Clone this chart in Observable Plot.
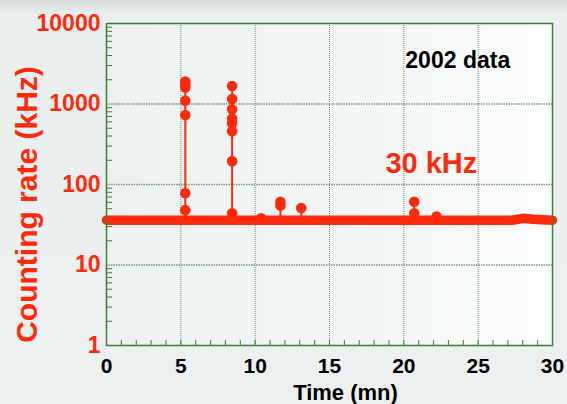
<!DOCTYPE html>
<html><head><meta charset="utf-8">
<script src="https://cdn.jsdelivr.net/npm/d3@7"></script>
<script src="https://cdn.jsdelivr.net/npm/@observablehq/plot@0.6"></script>
<style>
html,body{margin:0;padding:0;}
body{width:567px;height:404px;overflow:hidden;background:linear-gradient(#d6dada 0px,#dfe3e3 7px,#e9eeee 13px,#ecf0f0 100%);}
svg{display:block;}
</style>
</head><body><div id="chart"></div>
<script>
const xTicks = [0, 5, 10, 15, 20, 25, 30];
const yTicks = [1, 10, 100, 1000, 10000];
const minorMults = [2, 3, 4, 5, 6, 7, 8, 9];
const xMinor = [1,2,3,4,6,7,8,9,11,12,13,14,16,17,18,19,21,22,23,24,26,27,28,29];
// baseline trace (~36 kHz)
const baseTime = [0, 5, 10, 15, 20, 25, 27.3, 28, 28.7, 30];
const baseRate = [36, 36, 36, 36, 36, 36, 36, 38, 37, 36];
// spikes: time and measured rates
const spikeTime = [5.3, 8.45, 10.4, 11.7, 13.1, 20.7, 22.2];
const spikeRates = [
  [48, 78, 730, 1100, 1600, 1750, 1900],
  [44, 195, 460, 575, 660, 860, 1150, 1670],
  [38],
  [55, 61],
  [51],
  [44, 61],
  [40]
];
const spikeFloor = 36;

const red = "#ff2a0c";
const green = "#3f7d33";
const font = "'Liberation Sans', Arial, sans-serif";

const base = baseTime.map((t, i) => ({t, v: baseRate[i]}));
const spikeLines = [];
const spikeDots = [];
spikeTime.forEach((t, k) => {
  spikeLines.push({t, v: spikeFloor, k});
  spikeRates[k].forEach(v => { spikeLines.push({t, v, k}); spikeDots.push({t, v}); });
});
const minorY = [];
yTicks.slice(0, -1).forEach(d => minorMults.forEach(m => minorY.push(d * m)));

const plot = Plot.plot({
  width: 567, height: 404,
  marginLeft: 106, marginRight: 15, marginTop: 23, marginBottom: 59,
  style: {background: "transparent", fontFamily: font, overflow: "visible"},
  x: {domain: [0, 30], label: null},
  y: {type: "log", domain: [1, 10000], label: null},
  marks: [
    Plot.frame({fill: "url(#pbg)", stroke: "none"}),
    Plot.ruleX(xTicks.slice(1, -1), {stroke: "#5f9a55", strokeDasharray: "1,1", strokeWidth: 1}),
    Plot.ruleY(yTicks.slice(1, -1), {stroke: "#7c977c", strokeDasharray: "1.5,1", strokeWidth: 1.3}),
    Plot.axisY({ticks: minorY, tickSize: -6, text: null, stroke: green, strokeWidth: 1}),
    Plot.axisX({ticks: xMinor.concat(xTicks), tickSize: -5, text: null, stroke: green, strokeWidth: 1}),
    Plot.axisY({ticks: yTicks, tickSize: 0, tickPadding: 6, tickFormat: d => String(d),
      fill: red, fontSize: 23, fontWeight: "bold"}),
    Plot.axisX({ticks: xTicks, tickSize: 0, tickPadding: 13, tickFormat: d => String(d),
      fill: "#000", fontSize: 21, fontWeight: "bold"}),
    Plot.line(base, {x: "t", y: "v", stroke: red, strokeWidth: 9.5, strokeLinecap: "round", strokeLinejoin: "round"}),
    Plot.line(spikeLines, {x: "t", y: "v", z: "k", stroke: red, strokeWidth: 2}),
    Plot.dot(spikeDots, {x: "t", y: "v", r: 5.3, fill: red, stroke: "none"}),
    Plot.frame({stroke: green, strokeWidth: 1.5, fill: "none"}),
    Plot.text(["2002 data"], {x: 20.1, y: 3436, text: d => d, textAnchor: "start", fill: "#000",
      fontSize: 23, fontWeight: "bold"}),
    Plot.text(["30 kHz"], {x: 18.76, y: 183, text: d => d, textAnchor: "start", fill: red,
      fontSize: 29, fontWeight: "bold"}),
    Plot.text(["Counting rate (kHz)"], {frameAnchor: "left", textAnchor: "middle", lineAnchor: "middle",
      dx: -79, dy: 20, rotate: -90, text: d => d, fill: red, fontSize: 30, fontWeight: "bold"}),
    Plot.text(["Time (mn)"], {frameAnchor: "bottom", textAnchor: "middle", lineAnchor: "middle",
      dx: 16, dy: 47, text: d => d, fill: "#000", fontSize: 22, fontWeight: "bold"})
  ]
});
const defs = document.createElementNS("http://www.w3.org/2000/svg", "defs");
defs.innerHTML = '<linearGradient id="pbg" x1="0" y1="0" x2="1" y2="0"><stop offset="0" stop-color="#ebf1f1"/><stop offset="0.6" stop-color="#f3f6f6"/><stop offset="1" stop-color="#fdfefe"/></linearGradient>';
plot.insertBefore(defs, plot.firstChild);
document.getElementById("chart").appendChild(plot);
</script>
</body></html>
